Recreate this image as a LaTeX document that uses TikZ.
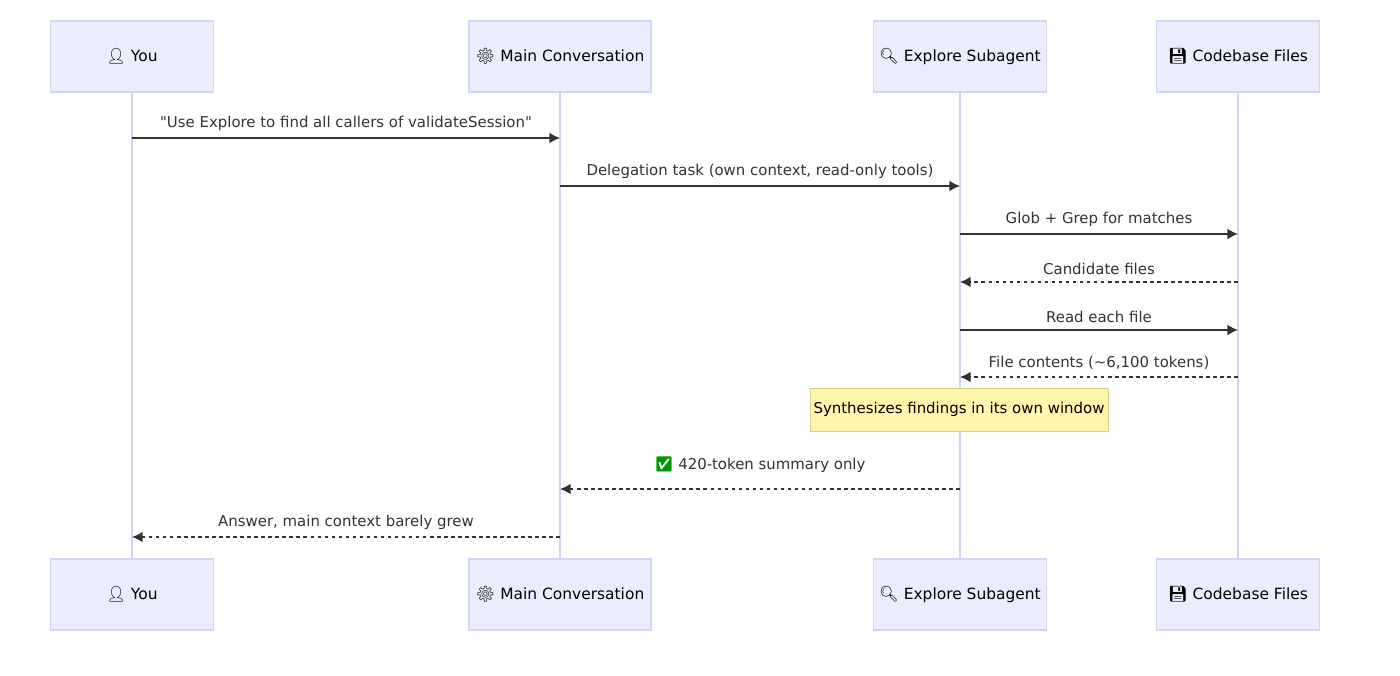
\documentclass[tikz,border=0pt]{standalone}
\usepackage{fontspec}
\setmainfont{DejaVu Sans}
\newfontfamily\emo{Noto Emoji}
\usetikzlibrary{arrows.meta}
\definecolor{actfill}{HTML}{ECECFF}
\definecolor{actline}{HTML}{D4D4F7}
\definecolor{notefill}{HTML}{FFF5AD}
\definecolor{noteline}{HTML}{D6D08A}
\definecolor{ink}{HTML}{333333}
\tikzset{
 actor/.style={draw=actline,fill=actfill,line width=0.8pt,minimum height=1.42cm,inner sep=0pt,font=\fontsize{8.8}{11}\selectfont,text=black},
 life/.style={draw=actline,line width=0.9pt},
 msg/.style={draw=ink,line width=0.8pt,-{Latex[length=6pt,width=6pt]}},
 ret/.style={msg,dash pattern=on 2pt off 2pt},
 lab/.style={font=\fontsize{8.5}{10}\selectfont,text=ink,inner sep=0pt}
}
\begin{document}
\begin{tikzpicture}[x=0.02cm,y=-0.02cm]
\useasboundingbox[fill=white] (0,0) rectangle (1400,676);
\foreach \n/\x/\w/\t in {you/132/163/{{\emo 👤} You},main/560/182/{{\emo ⚙} Main Conversation},exp/960/173/{{\emo 🔍} Explore Subagent},code/1238/163/{{\emo 💾} Codebase Files}}{
 \draw[life] (\x,91) -- (\x,558);
 \node[actor,minimum width=\w*0.02cm] (\n t) at (\x,56.5) {\t};
 \node[actor,minimum width=\w*0.02cm] (\n b) at (\x,594.5) {\t};
}
\foreach \n/\x in {you/132,main/560,exp/960,code/1238}{
 \foreach \y/\k in {138/1,186/2,234/3,282/4,330/5,377/6,489/7,537/8}{
  \coordinate (\n\k) at (\x,\y);
 }
}
\draw[msg] (you1) -- (main1) node[lab,midway,above=4pt] {\textquotedbl Use Explore to find all callers of validateSession\textquotedbl};
\draw[msg] (main2) -- (exp2) node[lab,midway,above=4pt] {Delegation task (own context, read-only tools)};
\draw[msg] (exp3) -- (code3) node[lab,midway,above=4pt] {Glob + Grep for matches};
\draw[ret] (code4) -- (exp4) node[lab,midway,above=4pt] {Candidate files};
\draw[msg] (exp5) -- (code5) node[lab,midway,above=4pt] {Read each file};
\draw[ret] (code6) -- (exp6) node[lab,midway,above=4pt] {File contents (\textasciitilde 6,100 tokens)};
\node[draw=noteline,fill=notefill,minimum width=298*0.02cm,minimum height=43*0.02cm,inner sep=0pt,font=\fontsize{8.5}{10}\selectfont] (note) at (959,409.5) {Synthesizes findings in its own window};
\draw[ret] (exp7) -- (main7) node[lab,midway,above=9pt] {{\emo\color{green!60!black}✅} 420-token summary only};
\draw[ret] (main8) -- (you8) node[lab,midway,above=4pt] {Answer, main context barely grew};
\end{tikzpicture}
\end{document}
